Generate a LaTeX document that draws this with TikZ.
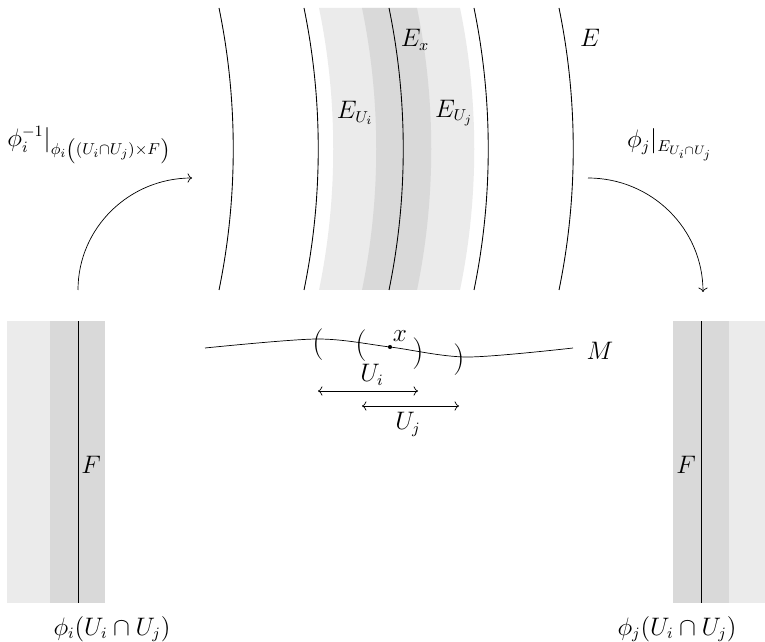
\documentclass[tikz,border=0pt]{standalone}
\usepackage{amsmath}
\usepackage{xcolor}
\usepackage{tikz}
\usetikzlibrary{arrows.meta,positioning,calc}
\definecolor{bandlight}{gray}{0.92}
\definecolor{banddark}{gray}{0.85}

\begin{document}
\begin{tikzpicture}[x=0.02cm, y=-0.02cm, font=\fontsize{13.5}{16}\selectfont,
    lbl/.style={inner sep=1pt},
    paren/.style={inner sep=0pt, font=\fontsize{18}{20}\selectfont},
    fib/.style={line width=0.5pt}]
\useasboundingbox (0,0) rectangle (765,642);
% total space E over the base M (pixel grid, y downwards)
\fill[bandlight] (319,8) .. controls (338,100) and (338,198) .. (319,290)
  -- (460,290) .. controls (479,198) and (479,100) .. (460,8) -- cycle;
\fill[banddark] (362,8) .. controls (381,100) and (381,198) .. (362,290)
  -- (417,290) .. controls (436,198) and (436,100) .. (417,8) -- cycle;
\foreach \x in {219,304,389,474,559}
  \draw[fib] (\x,8) .. controls (\x+19,100) and (\x+19,198) .. (\x,290);
\node[lbl] (Ex)  at (415,40)  {$E_x$};
\node[lbl] (EUi) at (355,113) {$E_{U_i}$};
\node[lbl] (EUj) at (454,113) {$E_{U_j}$};
\node[lbl] (E)   at (590,38)  {$E$};

% base M
\draw plot[smooth] coordinates {(205,348) (317,339) (390,347) (467,357) (573,348)};
\node[lbl] (M) at (600,351) {$M$};
\node[circle, fill, inner sep=0pt, minimum size=2.3pt] (px) at (390,347) {};
\node[lbl] (xl) at (400,336) {$x$};
\node[paren] (lpi) at (318,345) {(};
\node[paren] (lpj) at (361,346) {(};
\node[paren] (rpi) at (418,354) {)};
\node[paren] (rpj) at (459,360) {)};
\coordinate (ui1) at (318,391);
\coordinate (ui2) at (418,391);
\coordinate (uj1) at (362,406);
\coordinate (uj2) at (459,406);
\draw[<->] (ui1) -- (ui2);
\draw[<->] (uj1) -- (uj2);
\node[lbl] (Ui) at (372,375) {$U_i$};
\node[lbl] (Uj) at (408,424) {$U_j$};

% local trivialisations
\fill[bandlight] (7,321) rectangle (50,603);
\fill[banddark] (50,321) rectangle (105,603);
\draw[fib] (78,321) -- (78,603);
\node[lbl] (Fl) at (91,465) {$F$};
\fill[banddark] (673,321) rectangle (729,603);
\fill[bandlight] (729,321) rectangle (765,603);
\draw[fib] (701,321) -- (701,603);
\node[lbl] (Fr) at (686,465) {$F$};
\node[lbl] (Vi) at (112,629) {$\phi_i(U_i\cap U_j)$};
\node[lbl] (Vj) at (677,629) {$\phi_j(U_i\cap U_j)$};

% transition maps
\coordinate (li) at (78,290);
\coordinate (lo) at (192,178);
\coordinate (ro) at (588,178);
\coordinate (ri) at (703,292);
\draw[->] (li) to[out=90, in=180] (lo);
\draw[->] (ro) to[out=0, in=90] (ri);
\node[lbl] (phii) at (89,145) {$\phi_i^{-1}|_{\phi_i\left((U_i\cap U_j)\times F\right)}$};
\node[lbl] (phij) at (670,145) {$\phi_j|_{E_{U_i\cap U_j}}$};
\end{tikzpicture}
\end{document}
